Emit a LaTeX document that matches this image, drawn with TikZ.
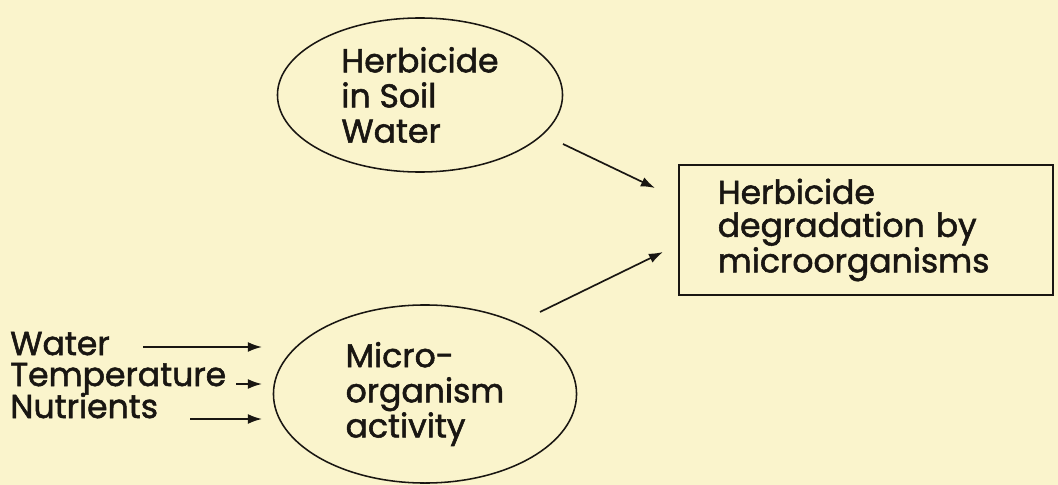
\documentclass[tikz,border=0pt]{standalone}
\usepackage{fontspec}
\setmainfont{Poppins}[BoldFont=Poppins, BoldFeatures={FakeBold=1.6}]
\usetikzlibrary{shapes.geometric,arrows.meta}
\definecolor{paper}{RGB}{250,244,204}
\definecolor{ink}{RGB}{25,22,18}
\tikzset{
  txt/.style={font=\fontsize{23.5}{25}\selectfont\bfseries, text=ink},
  lbl/.style={txt, align=left, inner sep=0pt},
  bubble/.style={ellipse, draw=ink, line width=1.1pt, txt, align=left, inner sep=0pt},
  arr/.style={draw=ink, line width=1.2pt, -{Latex[length=10pt,width=7pt]}},
}
\begin{document}
\begin{tikzpicture}[x=0.025cm,y=-0.025cm]
\fill[paper] (0,0) rectangle (1058,485);
\useasboundingbox (0,0) rectangle (1058,485);
% ellipses
\node[bubble, minimum width=7.125cm, minimum height=3.85cm] (soil) at (420,95) {Herbicide\\in Soil\\Water};
\node[bubble, minimum width=7.575cm, minimum height=4.45cm] (micro) at (425,394) {Micro-\\organism\\activity};
% box
\node[draw=ink, line width=1.1pt, anchor=west, font=\fontsize{23.5}{23.5}\selectfont\bfseries, text=ink, align=left,
      inner xsep=0.975cm, inner ysep=0pt, text width=7.4cm, minimum height=3.25cm] (deg) at (678,230)
      {Herbicide\\degradation by\\microorganisms};
% left labels
\node[lbl, anchor=base west] (water) at (10,355) {Water};
\node[lbl, anchor=base west] (temp) at (10,386) {Temperature};
\node[lbl, anchor=base west] (nutr) at (10,418) {Nutrients};
% arrow ends
\coordinate (w1) at (143,347);
\coordinate (w2) at (262,347);
\coordinate (t1) at (236,384);
\coordinate (t2) at (262,384);
\coordinate (n1) at (190,419);
\coordinate (n2) at (262,419);
\coordinate (s1) at (563,144);
\coordinate (s2) at (655,188);
\coordinate (m1) at (540,312);
\coordinate (m2) at (663,252);
\draw[arr] (w1) -- (w2);
\draw[arr] (t1) -- (t2);
\draw[arr] (n1) -- (n2);
\draw[arr] (s1) -- (s2);
\draw[arr] (m1) -- (m2);
\end{tikzpicture}
\end{document}
